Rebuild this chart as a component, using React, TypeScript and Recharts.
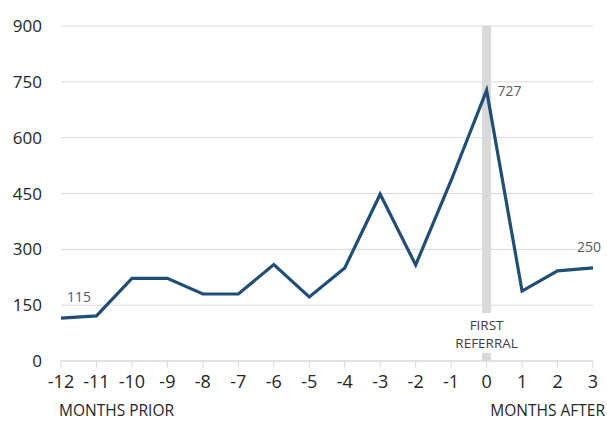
import { LineChart, Line, XAxis, YAxis, CartesianGrid, ReferenceLine } from 'recharts'

// --- data ---
const months = [-12, -11, -10, -9, -8, -7, -6, -5, -4, -3, -2, -1, 0, 1, 2, 3]
const referrals = [115, 121, 222, 222, 180, 180, 259, 172, 250, 448, 258, 485, 727, 188, 242, 250]
const yTicks = [0, 150, 300, 450, 600, 750, 900]
const labelledMonths = [-12, 0, 3]

const data = months.map((m, i) => ({ m, value: referrals[i] }))

const FONT = '"Open Sans", "Noto Sans", sans-serif'
const LINE_BLUE = '#1f4e79'
const BAND = '#d9d9d9'

const PointLabel = (props: any) => {
  const { x, y, value, index } = props
  const m = months[index]
  if (!labelledMonths.includes(m)) return null
  let tx = x, ty = y, anchor: 'start' | 'middle' | 'end' = 'middle'
  if (m === -12) { tx = x + 18; ty = y - 16 }
  else if (m === 0) { tx = x + 11; ty = y + 6; anchor = 'start' }
  else { tx = x - 4; ty = y - 16 }
  return (
    <text x={tx} y={ty} textAnchor={anchor} fill="#595959" fontSize={14} fontFamily={FONT}>
      {value}
    </text>
  )
}

const MonthTick = (props: any) => {
  const { x, y, payload, index } = props
  const last = index === months.length - 1
  return (
    <g>
      <text x={x} y={y + 18} textAnchor="middle" fill="#262626" fontSize={18} fontFamily={FONT}>
        {payload.value}
      </text>
      {index === 0 && (
        <text x={x - 2} y={y + 46} textAnchor="start" fill="#262626" fontSize={15.5} fontFamily={FONT}>
          MONTHS PRIOR
        </text>
      )}
      {last && (
        <text x={x + 12} y={y + 46} textAnchor="end" fill="#262626" fontSize={15.5} fontFamily={FONT}>
          MONTHS AFTER
        </text>
      )}
    </g>
  )
}

const ReferralLabel = (props: any) => {
  const { viewBox } = props
  const x = viewBox.x
  const bottom = viewBox.y + viewBox.height
  return (
    <g>
      <text x={x} y={bottom + 17} textAnchor="middle" fill="#404040" fontSize={13.5} fontFamily={FONT}>FIRST</text>
      <text x={x} y={bottom + 35} textAnchor="middle" fill="#404040" fontSize={13.5} fontFamily={FONT}>REFERRAL</text>
    </g>
  )
}

export default function App() {
  return (
    <div style={{ position: 'absolute', left: 0, top: 0, background: '#fff' }}>
      <LineChart width={607} height={422} data={data} margin={{ top: 26, right: 14, left: 0, bottom: 0 }}>
        <CartesianGrid horizontal vertical={false} stroke={BAND} />
        <XAxis
          dataKey="m"
          height={61}
          stroke={BAND}
          tickSize={7}
          interval={0}
          tick={<MonthTick />}
        />
        <YAxis
          domain={[0, 900]}
          ticks={yTicks}
          width={61}
          axisLine={false}
          tickLine={false}
          tickMargin={13}
          tick={{ fill: '#262626', fontSize: 17, fontFamily: FONT }}
        />
        <ReferenceLine
          segment={[{ x: 0, y: 129 }, { x: 0, y: 900 }]}
          stroke={BAND}
          strokeWidth={9}
          label={<ReferralLabel />}
        />
        <ReferenceLine segment={[{ x: 0, y: 0 }, { x: 0, y: 22 }]} stroke={BAND} strokeWidth={9} />
        <Line
          dataKey="value"
          stroke={LINE_BLUE}
          strokeWidth={3.2}
          dot={false}
          isAnimationActive={false}
          label={<PointLabel />}
        />
      </LineChart>
    </div>
  )
}
